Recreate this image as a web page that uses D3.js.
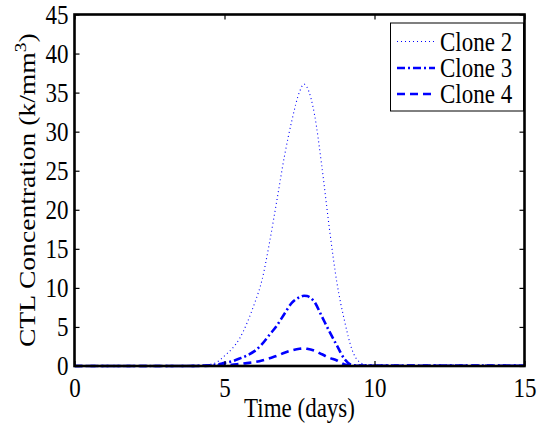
<!DOCTYPE html>
<html>
<head>
<meta charset="utf-8">
<script src="https://cdn.jsdelivr.net/npm/d3@7"></script>
<style>
  html, body { margin: 0; padding: 0; background: #fff; }
  svg { display: block; }
  text { font-family: "Liberation Serif", "Times New Roman", serif; fill: #000; }
</style>
</head>
<body>
<svg id="chart" width="543" height="424"></svg>
<script>
// ---- data ----
const times = [0, 3.5, 4.0, 4.25, 4.5, 4.75, 5.0, 5.25, 5.5, 5.75, 6.0, 6.25, 6.5, 6.75, 7.0, 7.25, 7.5, 7.65, 7.75, 8.0, 8.25, 8.5, 8.75, 9.0, 9.25, 9.5, 9.75, 10, 12, 15];
const clone2 = [0, 0.0, 0.05, 0.1, 0.2, 0.5, 1.3, 2.2, 3.5, 5.5, 8.0, 11.0, 15.8, 21.3, 26.9, 31.5, 35.1, 36.1, 35.7, 32.2, 25.4, 17.5, 10.6, 5.8, 2.1, 0.5, 0.15, 0.08, 0.05, 0.05];
const clone3 = [0, 0.0, 0.02, 0.04, 0.08, 0.2, 0.4, 0.6, 0.95, 1.35, 1.9, 2.8, 4.0, 5.2, 6.7, 8.1, 8.8, 9.0, 8.95, 8.2, 6.3, 4.4, 2.6, 0.9, 0.12, 0.05, 0.05, 0.05, 0.05, 0.05];
const clone4 = [0, 0.0, 0.0, 0.01, 0.03, 0.06, 0.1, 0.17, 0.25, 0.37, 0.5, 0.7, 1.0, 1.3, 1.7, 2.0, 2.2, 2.25, 2.2, 1.95, 1.5, 1.05, 0.7, 0.2, 0.05, 0.03, 0.03, 0.03, 0.03, 0.03];
const seriesNames = ["Clone 2", "Clone 3", "Clone 4"];
const xTicks = [0, 5, 10, 15];
const yTicks = [0, 5, 10, 15, 20, 25, 30, 35, 40, 45];
const xLabel = "Time (days)";
const yLabelMain = "CTL Concentration (k/mm";
const yLabelSup = "3";

// ---- layout ----
const L = 74.5, R = 524.5, T = 14.5, B = 366;
const FS = 23;
const SY = 1.15; // vertical stretch of text seen in the reference
const svg = d3.select("#chart");

const x = d3.scaleLinear().domain([0, 15]).range([L, R]);
const y = d3.scaleLinear().domain([0, 45]).range([B, T]);

const styles = [
  { width: 1.1, dash: "1,3" },
  { width: 2.6, dash: "8,3,2,3" },
  { width: 2.6, dash: "8,5" }
];
const allSeries = [clone2, clone3, clone4];

const line = d3.line().x(d => x(d[0])).y(d => y(d[1])).curve(d3.curveMonotoneX);

const g = svg.append("g");
g.append("clipPath").attr("id", "clip").append("rect")
  .attr("x", L).attr("y", T).attr("width", R - L).attr("height", B - T + 2);

allSeries.forEach((vals, i) => {
  const pts = times.map((t, k) => [t, vals[k]]);
  g.append("path")
    .attr("clip-path", "url(#clip)")
    .attr("d", line(pts))
    .attr("fill", "none")
    .attr("stroke", "#0000ff")
    .attr("stroke-width", styles[i].width)
    .attr("stroke-dasharray", styles[i].dash);
});

// axes (MATLAB style: inward ticks, box)
const tickLen = 5;
const xAxisB = d3.axisBottom(x).tickValues(xTicks).tickSize(-tickLen).tickPadding(10.5).tickFormat(d3.format("d"));
const xAxisT = d3.axisTop(x).tickValues(xTicks).tickSize(-tickLen).tickFormat("");
const yAxisL = d3.axisLeft(y).tickValues(yTicks).tickSize(-tickLen).tickPadding(6).tickFormat(d3.format("d"));
const yAxisR = d3.axisRight(y).tickValues(yTicks).tickSize(-tickLen).tickFormat("");

function styleAxis(sel) {
  sel.select(".domain").remove();
  sel.selectAll(".tick line").attr("stroke", "#000").attr("stroke-width", 1.2);
  sel.selectAll(".tick text").attr("font-size", FS).attr("font-family", "Liberation Serif").attr("fill", "#000")
    .attr("transform", `scale(1,${SY})`);
}
svg.append("g").attr("transform", `translate(0,${B})`).call(xAxisB).call(styleAxis)
  .selectAll(".tick text").attr("dy", "0.71em");
svg.append("g").attr("transform", `translate(0,${T})`).call(xAxisT).call(styleAxis);
svg.append("g").attr("transform", `translate(${L},0)`).call(yAxisL).call(styleAxis)
  .selectAll(".tick text").attr("dy", "0.33em");
svg.append("g").attr("transform", `translate(${R},0)`).call(yAxisR).call(styleAxis);

// frame
svg.append("rect").attr("x", L).attr("y", T).attr("width", R - L).attr("height", B - T)
  .attr("fill", "none").attr("stroke", "#000").attr("stroke-width", 2.6);

// axis labels
svg.append("text").attr("transform", `translate(${(L + R) / 2},417) scale(1,${SY})`)
  .attr("text-anchor", "middle").attr("font-size", FS).text(xLabel);
const YFS = 24;
const yl = svg.append("text").attr("transform", `translate(35,${(T + B) / 2}) scale(1,${SY}) rotate(-90)`)
  .attr("text-anchor", "middle").attr("font-size", YFS);
yl.append("tspan").text(yLabelMain);
yl.append("tspan").attr("font-size", YFS * 0.7).attr("dy", -9).text(yLabelSup);
yl.append("tspan").attr("dy", 9).text(")");

// legend
const lg = svg.append("g");
lg.append("rect").attr("x", 390.5).attr("y", 23).attr("width", 133).attr("height", 88)
  .attr("fill", "#fff").attr("stroke", "#000").attr("stroke-width", 1);
const rowsY = [41.5, 68, 94];
seriesNames.forEach((name, i) => {
  lg.append("line").attr("x1", 397).attr("x2", 435).attr("y1", rowsY[i]).attr("y2", rowsY[i])
    .attr("stroke", "#0000ff").attr("stroke-width", styles[i].width)
    .attr("stroke-dasharray", styles[i].dash);
  lg.append("text").attr("transform", `translate(440,${rowsY[i]}) scale(1,${SY})`).attr("dy", "0.35em")
    .attr("font-size", FS).text(name);
});
</script>
</body>
</html>
